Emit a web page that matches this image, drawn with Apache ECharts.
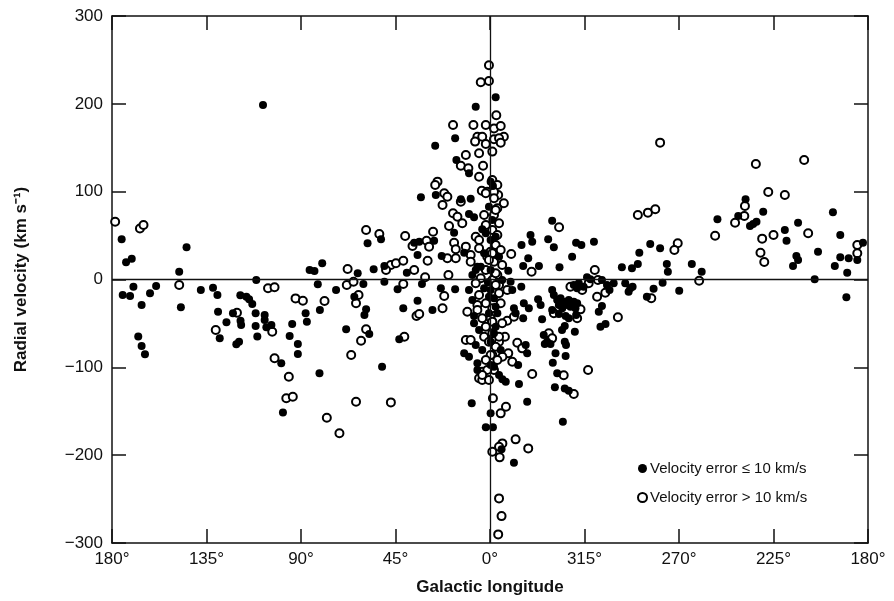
<!DOCTYPE html>
<html>
<head>
<meta charset="utf-8">
<script src="https://cdn.jsdelivr.net/npm/echarts@6/dist/echarts.min.js"></script>
<style>
  html, body { margin: 0; padding: 0; background: #fff; }
  #chart { width: 894px; height: 601px; }
</style>
</head>
<body>
<div id="chart"></div>
<script>
// x = position along the plot in degrees: negative = l 180..0 (left half), positive = l 360..180 (right half)
// y = radial velocity, km/s
let xTicks = [-180, -135, -90, -45, 0, 45, 90, 135, 180]
let legendNames = ['Velocity error \u2264 10 km/s', 'Velocity error > 10 km/s']

let filledStars = [
  [-175.4,45.8],[-173.3,19.6],[-170.6,23.7],[-174.9,-17.6],[-171.4,-18.8],[-169.8,-8.2],[-165.9,-29],[-167.5,-65],
  [-165.9,-75.7],[-164.3,-85.2],[-161.9,-15.7],[-159,-7.4],[-148,8.9],[-144.5,36.7],[-147.2,-31.7],[-137.7,-12],
  [-131.9,-9.3],[-129.8,-17.7],[-129.5,-36.7],[-128.7,-67],[-125.5,-48.7],[-122.4,-38.5],[-118.8,-46.9],[-118.5,-51.8],
  [-120.8,-73.8],[-119.5,-70.8],[-118.9,-18],[-116,-19.6],[-114.7,-22.6],[-113.2,-27.9],[-111.6,-38.5],[-111.6,-53],
  [-110.8,-65],[-107.3,-40.4],[-107.3,-46],[-111.3,-0.6],[-106.5,-54.4],[-104.1,-51.8],[-99.4,-95.4],[-94.2,-50.7],
  [-95.4,-64.4],[-91.5,-73.5],[-91.5,-84.9],[-87.8,-38.5],[-87.2,-48],[-85.9,10.8],[-83.6,9.7],[-79.9,18.4],
  [-82,-5.5],[-81,-34.7],[-81.2,-106.8],[-73.3,-12],[-98.6,-151.3],[-108.1,198.7],
  [-32.9,93.6],[-25.8,96.2],[-58.3,41.2],[-51.9,45.8],[-36.1,41.9],[-33.7,43],[-26.6,44.2],[-34.5,27.9],
  [-63,7],[-55.4,11.6],[-50.3,15.4],[-39.6,7.7],[-60.3,-5.1],[-50.3,-2.5],[-44,-11.2],[-32.4,-5.1],
  [-23.4,-10],[-16.6,-11.2],[-64.6,-19.6],[-59,-34],[-59.8,-40.4],[-34.5,-24.1],[-41.3,-32.8],[-27.4,-34.7],
  [-68.5,-56.7],[-57.5,-62],[-43.2,-68.1],[-51.4,-99.3],[-12.3,-84.1],[-10,-87.9],[-6,-103],[-7.6,-41.6],
  [-17.1,53.3],[-10,74.6],[-7.6,70.8],[-3.7,57.2],[-2,52.6],[-23,26.8],[-12.3,30.5],[-6.8,10.8],[-4.4,14.6],[-8.7,-141],
  [2.7,207.5],[-6.8,196.8],[-16.6,160.8],[-26.1,152.4],[-16,136.1],[-10,121],[0.3,111.4],[1.4,106.5],[-13.9,91.3],[-9.2,92],
  [29.6,67],[19.3,50.7],[20.1,43],[27.7,45.8],[30.4,36.7],[41,41.9],[43.5,39.3],[49.5,43],[39.1,26],[15,39.3],
  [18.2,24.1],[15.8,15.4],[23.3,15.4],[33.1,13.9],[8.7,10],[9.8,-2.5],[10.6,-12],[14.9,-8.2],
  [29.6,-12],[30.4,-17.7],[32,-23.3],[33.6,-21.4],[35.1,-25.3],[37.5,-23.3],[39.9,-25.3],[41.5,-27.1],[32.8,-29],
  [34.4,-32.8],[36,-29],[38.3,-31],[40.7,-32.8],[29.6,-34.7],[32.8,-39.3],[36,-41.6],[37.5,-44.2],[41,-40.4],
  [22.9,-22.6],[24.1,-29],[16.1,-27.1],[18.5,-32.8],[11.4,-32.8],[12.2,-38.5],[15.8,-44.2],[24.8,-45.3],[35.6,-53],
  [34.3,-57.5],[40.4,-59.4],[25.6,-63.2],[27.2,-70.8],[28.8,-73.5],[26.1,-73.5],[35.6,-70.8],[36.2,-74.6],[17,-74.6],
  [17.7,-84.1],[31.2,-84.1],[29.9,-94.8],[36,-87.1],[13.4,-97.4],[32,-106.8],
  [46.2,2.5],[47.8,0.2],[44.6,-8.2],[42.3,-4.3],[39.9,-6.3],[41.5,-10],[53.3,-0.6],[55.7,-6.3],[56.9,-12],[58.9,-4.3],
  [53.3,-30.2],[51.8,-36.7],[52.6,-53.8],[55,-50.7],[64.4,-4.4],[66.8,-10],[66,-13.9],[67.9,-8.2],[74.7,-19.6],
  [71.1,30.5],[70.4,17.7],[67.6,12.8],[62.8,13.9],
  [5.9,-113.7],[7.5,-116.4],[13.8,-119],[30.9,-122.8],[35.6,-124],[37.5,-126.7],[17.7,-139.2],[34.7,-162],
  [0.3,-152.4],[1.4,-168.3],[-2,-168.3],[5.5,-193.4],[11.4,-208.6],
  [76.3,40.4],[81,35.5],[84.2,17.7],[84.7,8.9],[82.2,-3.6],[77.9,-10.5],[90.1,-12.8],[96.1,17.7],[100.8,8.9],
  [121.7,91.3],[118.2,72.3],[130.1,77.2],[123.8,60.9],[125.3,63.2],[126.9,65.8],[108.3,68.6],[140.4,56.4],[141.2,44.2],
  [146.7,64.7],[145.9,26.8],[146.7,22.2],[144.3,15.4],[156.2,31.7],[154.6,0.2],[163.3,76.5],[166.8,50.7],[166.8,25.3],
  [170.8,24.1],[164.2,15.4],[170.1,7.7],[169.7,-20.3],[177.6,41.9],[174.9,22.2],
  [0.3,45],[4.3,26],[0.3,10.8],[5.8,-0.6],[0.3,-12],[1.9,-21.4],[3.5,-38.5],[2.7,-53.8],[0.3,-70.8],[5.1,-80.3],
  [0.3,-97.4],[4.3,-108.8],[-0.5,82.9],[1.1,67.8],[2.7,48.7],[-2.8,29.8],[-6,14.6],[-8.4,5.1],[-1,-3],[-2.8,-10],
  [-10,-12],[-0.5,-19.6],[-8.4,-23.3],[2.7,-31],[-0.5,-38.5],[-7.6,-49.9],[-5.2,-57.5],[1.9,-61.3],[-6.8,-74.6],
  [-3.7,-80.3],[-6,-95.4],[1.9,-99.3]
]

let openStars = [
  [-178.5,65.8],[-166.7,58],[-165,62],[-148,-6.3],[-130.6,-57.5],[-120.5,-37.8],[-105.7,-10],[-102.6,-8.9],
  [-103.7,-59.4],[-102.6,-89.7],[-95.8,-110.7],[-92.6,-21.5],[-89.1,-24.1],[-78.8,-24.5],[-97,-135.3],[-93.9,-133.5],
  [-77.7,-157.4],[-71.7,-175],[-63.8,-139.2],[-47.2,-139.9],
  [-59,56.4],[-52.7,51.8],[-40.4,49.5],[-36.9,38.2],[-30.2,44.2],[-29,37.4],[-27.1,54.4],[-29.7,21.4],[-67.8,12],
  [-47.2,16.5],[-49.5,10.8],[-44.8,18.4],[-41.3,21.4],[-36.1,10.8],[-30.9,2.5],[-19.8,5.1],[-68.2,-6.3],[-65,-2.5],
  [-41.3,-5.1],[-21.8,-18.8],[-63.8,-27.1],[-62.6,-17.7],[-35,-41.6],[-33.7,-39.3],[-22.6,-32.8],[-59,-56.7],
  [-61.4,-69.7],[-40.8,-65.1],[-66.1,-86],[-11.5,-68.9],[-9.2,-68.9],[-3.7,-105],[-10.8,-36.7],[-6,-29],
  [-21.8,98.2],[-20.3,94.3],[-22.6,84.9],[-13.9,88.6],[-17.6,75.4],[-15.5,71.5],[-13.2,64],[-19.5,60.9],[-6.8,48.7],
  [-5.2,45],[-17.1,41.9],[-16.3,34.4],[-20.3,24.1],[-16.3,24.1],[-9.2,27.9],[-11.5,37.4],[-9.2,20.3],[-1.3,26],
  [0.3,31.7],[-5.2,-112.5],[-3.7,-114.5],[-0.5,-114.5],
  [-0.5,244],[-4.4,224.6],[-0.5,226],[3,187],[-17.6,176],[-7.9,176],[-2,176],[1.9,172],[-6,162.6],[-3.7,162.6],
  [-7.1,157],[-2,154.3],[1.9,159.7],[1.1,145.6],[-11.5,141.8],[-5.2,143.7],[-13.9,129.6],[-10.3,126.6],[-3.3,129.6],
  [-5.2,117],[-25,111.4],[-26.1,107.6],[-3.9,101],[-1.3,100],[5.1,174.8],[6.6,162.6],[4.3,160.8],[5.1,155.8],
  [1.1,113.3],[3.5,107.6],[3.9,96.2],
  [70.4,73.5],[75.2,76.1],[78.7,80],[49.9,10.8],[47,-4.3],[38.3,-8.2],[43.9,-12],[51.4,-0.6],[54.9,-15],[51,-19.6],
  [60.9,-43],[76.8,-21.4],[32.9,59.4],[10.1,29],[19.8,8.9],[43.1,-34],[30.4,-38.5],[41.5,-44.2],[28,-61.3],[29.6,-67],
  [13,-72],[15.3,-78.4],[10.6,-93.6],[20.1,-107.6],[35.1,-109.1],[46.7,-103],[8.7,-84.1],[5.9,-87.9],[7.1,-65.1],
  [4.3,-70.8],[8.2,-46.9],[11.4,-42.4],[4.3,-6.3],[8.2,-12],[39.9,-130.4],[1.4,-135.3],[7.6,-144.9],[5.1,-152.4],
  [5.9,-186.6],[4.3,-190.4],[12.2,-182],[18.2,-192.3],[1.1,-196.1],[4.6,-202.5],[4.3,-249.2],[5.5,-269.4],[3.9,-290.2],
  [81,155.8],[126.6,131.5],[149.6,136.1],[132.5,99.7],[140.4,96.2],[121.4,83.7],[121.1,72.3],[116.7,64.7],[107.2,49.9],
  [129.6,46.5],[135,50.7],[151.5,52.6],[128.8,30.5],[130.6,19.9],[174.9,39.3],[174.9,29.8],[89.4,41.2],[87.8,33.6],[99.6,-1.4],
  [1.9,100],[6.6,86.8],[3.5,81.1],[1.9,73.5],[4.3,64],[1.1,56.4],[3.5,50.7],[2.7,39.3],[5.1,33.6],[1.1,29.8],
  [1.9,20.3],[5.8,16.5],[3.5,5.1],[1.1,-0.6],[2.7,-6.3],[4.3,-15.7],[5.1,-27.1],[1.1,-32.8],[0.3,-44.2],[5.8,-49.9],
  [1.1,-61.3],[4.3,-65.1],[2.7,-76.5],[1.1,-86],[3.5,-91.7],[1.9,-103],[1.9,92.5],[2.7,79.2],[-2.8,73.5],[-2,62.1],
  [-5.2,35.5],[-0.5,22.2],[-2,10.8],[2.7,7.1],[-4.4,1.4],[-6.8,-4.3],[-5.2,-17.7],[-2,-27.1],[-6,-34.7],[-3.7,-44.2],
  [1.1,-48],[-2,-53.8],[-2.8,-65.1],[-0.5,-70.8],[0.3,-86],[-2,-91.7],[-1.3,-103],[-3.7,-108.8],[-2,98.2]
]

let font = 'Liberation Sans, Arial, Helvetica, sans-serif'
let ink = '#111'

// galactic longitude label for a plot position
function lonLabel(v) {
  if (v < 0) return (-v) + '\u00b0'
  if (v === 0) return '0\u00b0'
  return (360 - v) + '\u00b0'
}

function baseX(pos, showLabel) {
  return {
    type: 'value', position: pos, min: xTicks[0], max: xTicks[xTicks.length - 1], interval: 45,
    axisLine: { show: true, onZero: false, lineStyle: { color: ink, width: 1.5 } },
    axisTick: { show: true, inside: true, length: 14, lineStyle: { color: ink, width: 1.5 } },
    axisLabel: { show: showLabel, formatter: lonLabel, fontSize: 17, color: ink, fontFamily: font, margin: 8 },
    splitLine: { show: false }
  }
}

function baseY(pos, showLabel) {
  return {
    type: 'value', position: pos, min: -300, max: 300, interval: 100,
    axisLine: { show: true, onZero: false, lineStyle: { color: ink, width: 1.5 } },
    axisTick: { show: true, inside: true, length: 14, lineStyle: { color: ink, width: 1.5 } },
    axisLabel: {
      show: showLabel, fontSize: 17, color: ink, fontFamily: font, margin: 9,
      formatter: function(v) { return String(v).replace('-', '\u2212') }
    },
    splitLine: { show: false }
  }
}

let xBottom = baseX('bottom', true)
xBottom.name = 'Galactic longitude'
xBottom.nameLocation = 'middle'
xBottom.nameGap = 36
xBottom.nameTextStyle = { fontSize: 17, fontWeight: 'bold', color: ink, fontFamily: font }

let yLeft = baseY('left', true)
yLeft.name = 'Radial velocity (km s\u207b\u00b9)'
yLeft.nameLocation = 'middle'
yLeft.nameGap = 82
yLeft.nameTextStyle = { fontSize: 17, fontWeight: 'bold', color: ink, fontFamily: font }

let option = {
  backgroundColor: '#fff',
  animation: false,
  grid: { left: 112, right: 26, top: 16, bottom: 58 },
  xAxis: [xBottom, baseX('top', false)],
  yAxis: [yLeft, baseY('right', false)],
  legend: {
    data: legendNames,
    orient: 'vertical',
    left: 632, top: 456,
    itemWidth: 9, itemHeight: 9, itemGap: 14,
    icon: 'circle',
    textStyle: { fontSize: 15, color: ink, fontFamily: font, padding: [0, 0, 0, -2] }
  },
  series: [
    {
      name: legendNames[1],
      type: 'scatter',
      data: openStars,
      symbol: 'circle',
      symbolSize: 8,
      itemStyle: { color: '#fff', borderColor: '#000', borderWidth: 2, opacity: 1 },
      markLine: {
        silent: true, symbol: 'none', label: { show: false },
        lineStyle: { color: ink, width: 1.3, type: 'solid' },
        data: [{ xAxis: 0 }, { yAxis: 0 }]
      },
      z: 2
    },
    {
      name: legendNames[0],
      type: 'scatter',
      data: filledStars,
      symbol: 'circle',
      symbolSize: 8,
      itemStyle: { color: '#000', opacity: 1 },
      z: 3
    }
  ]
}

let myChart = echarts.init(document.getElementById('chart'))
myChart.setOption(option)
</script>
</body>
</html>
